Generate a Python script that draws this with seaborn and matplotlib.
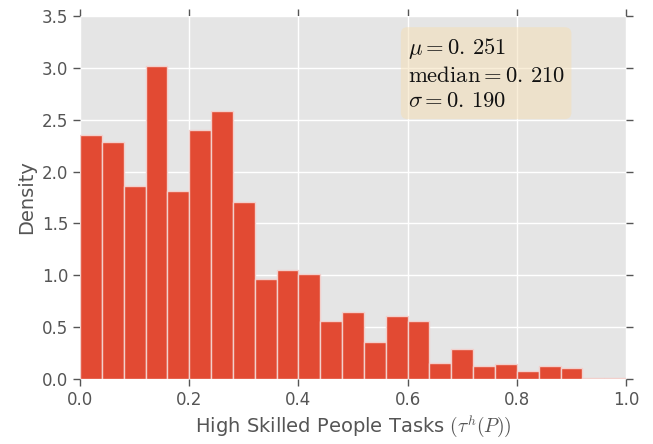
import numpy as np
import pandas as pd
import matplotlib
matplotlib.use("Agg")
import matplotlib.pyplot as plt
import seaborn as sns

# histogram: 25 bins of width 0.04 on [0, 1]
bin_width = 0.04
density = [2.357, 2.283, 1.861, 3.017, 1.810, 2.402, 2.583, 1.706, 0.962, 1.053,
           1.008, 0.563, 0.644, 0.360, 0.610, 0.560, 0.155, 0.290, 0.126, 0.148,
           0.080, 0.126, 0.103, 0.013, 0.006]
stats_text = [r'$\mu=0.\,251$', r'$\mathrm{median}=0.\,210$', r'$\sigma=0.\,190$']

plt.style.use('ggplot')
plt.rcParams['mathtext.fontset'] = 'cm'
plt.rcParams['font.family'] = ['DejaVu Sans']

centers = bin_width * (np.arange(len(density)) + 0.5)
df = pd.DataFrame({'tau': centers, 'dens': density})

fig = plt.figure(figsize=(6.53, 4.44), dpi=100)
ax = fig.add_axes([0.1225, 0.1464, 0.8362, 0.8176])
ax.set_facecolor('#E5E5E5')

sns.histplot(data=df, x='tau', weights='dens', binwidth=bin_width, binrange=(0, 1),
             stat='count', color='#E24A33', alpha=1.0, edgecolor='#F2D0CC',
             linewidth=1.0, ax=ax)

ax.set_xlim(0, 1)
ax.set_ylim(0, 3.5)
ax.set_xticks(np.arange(0, 1.01, 0.2))
ax.set_yticks(np.arange(0, 3.51, 0.5))
ax.grid(True, color='white', linestyle='-', linewidth=1)
ax.set_axisbelow(True)
for s in ax.spines.values():
    s.set_visible(False)
ax.tick_params(axis='both', which='both', direction='out', length=5, width=1,
               color='#555555', labelcolor='#555555', labelsize=12,
               top=True, right=True, bottom=True, left=True)
ax.set_xlabel(r'High Skilled People Tasks $(\tau^h(P))$', fontsize=14, color='#555555')
ax.set_ylabel('Density', fontsize=14, color='#555555')

ax.text(0.6, 0.945, '\n'.join(stats_text), transform=ax.transAxes, fontsize=16.3,
        va='top', ha='left', color='#111111', linespacing=1.15,
        bbox=dict(boxstyle='round', facecolor='wheat', alpha=0.5, edgecolor='none'))

fig.savefig('out.png', dpi=100)
